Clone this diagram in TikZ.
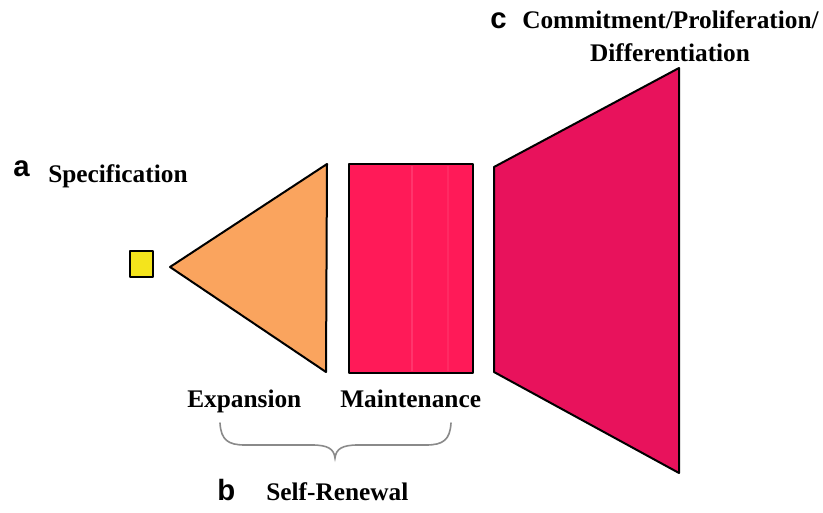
\documentclass[tikz,border=0pt]{standalone}
\usepackage{fontspec}
\setmainfont{Liberation Serif}
\newfontfamily\labelsans{Liberation Sans}
\definecolor{specyellow}{HTML}{F4E41C}
\definecolor{exporange}{HTML}{FAA45E}
\definecolor{mainpink}{HTML}{FF1A58}
\definecolor{commpink}{HTML}{E8125C}
\definecolor{bracegray}{HTML}{8A8A8A}
\begin{document}
\begin{tikzpicture}[x=0.75pt,y=-0.75pt,
  lbl/.style={anchor=base west,inner sep=0pt,font=\fontsize{19}{22}\selectfont\bfseries},
  letter/.style={anchor=base west,inner sep=0pt,font=\labelsans\fontsize{22}{24}\selectfont\bfseries},
  outline/.style={draw=black,line width=1.5pt,line join=round}]
\useasboundingbox (0,0) rectangle (823,513);
% shapes
\draw[outline,fill=specyellow,line width=1.2pt] (130,251) rectangle (153,277);
\draw[outline,fill=exporange] (170,267) -- (327,164) -- (326,372) -- cycle;
\draw[outline,fill=mainpink] (349,164) rectangle (473,373);
\draw[white,opacity=0.12,line width=1pt] (412,166) -- (412,371);
\draw[white,opacity=0.07,line width=1pt] (448,166) -- (448,371);
\draw[outline,fill=commpink] (494,167) -- (679,68) -- (679,473) -- (494,372) -- cycle;
% labels
\node[letter] (la) at (13,177) {a};
\node[lbl] (spec) at (48,183) {Specification};
\node[letter] (lc) at (490,29) {c};
\node[lbl] (comm) at (522,29) {Commitment/Proliferation/};
\node[lbl,anchor=base] (diff) at (670,62) {Differentiation};
\node[lbl] (exp) at (187,407) {Expansion};
\node[lbl] (main) at (340,407) {Maintenance};
\node[letter] (lb) at (217,500) {b};
\node[lbl] (self) at (266,500) {Self-Renewal};
% brace
\coordinate (bl) at (220,423);
\coordinate (br) at (451,423);
\coordinate (bt) at (335,458);
\draw[bracegray,line width=1.2pt,line cap=round]
  (bl) .. controls (221,440) and (228,445) .. (245,445)
  -- (312,445) .. controls (328,445) and (334,449) .. (bt)
  .. controls (336,449) and (342,445) .. (358,445)
  -- (426,445) .. controls (443,445) and (450,440) .. (br);
\end{tikzpicture}
\end{document}
